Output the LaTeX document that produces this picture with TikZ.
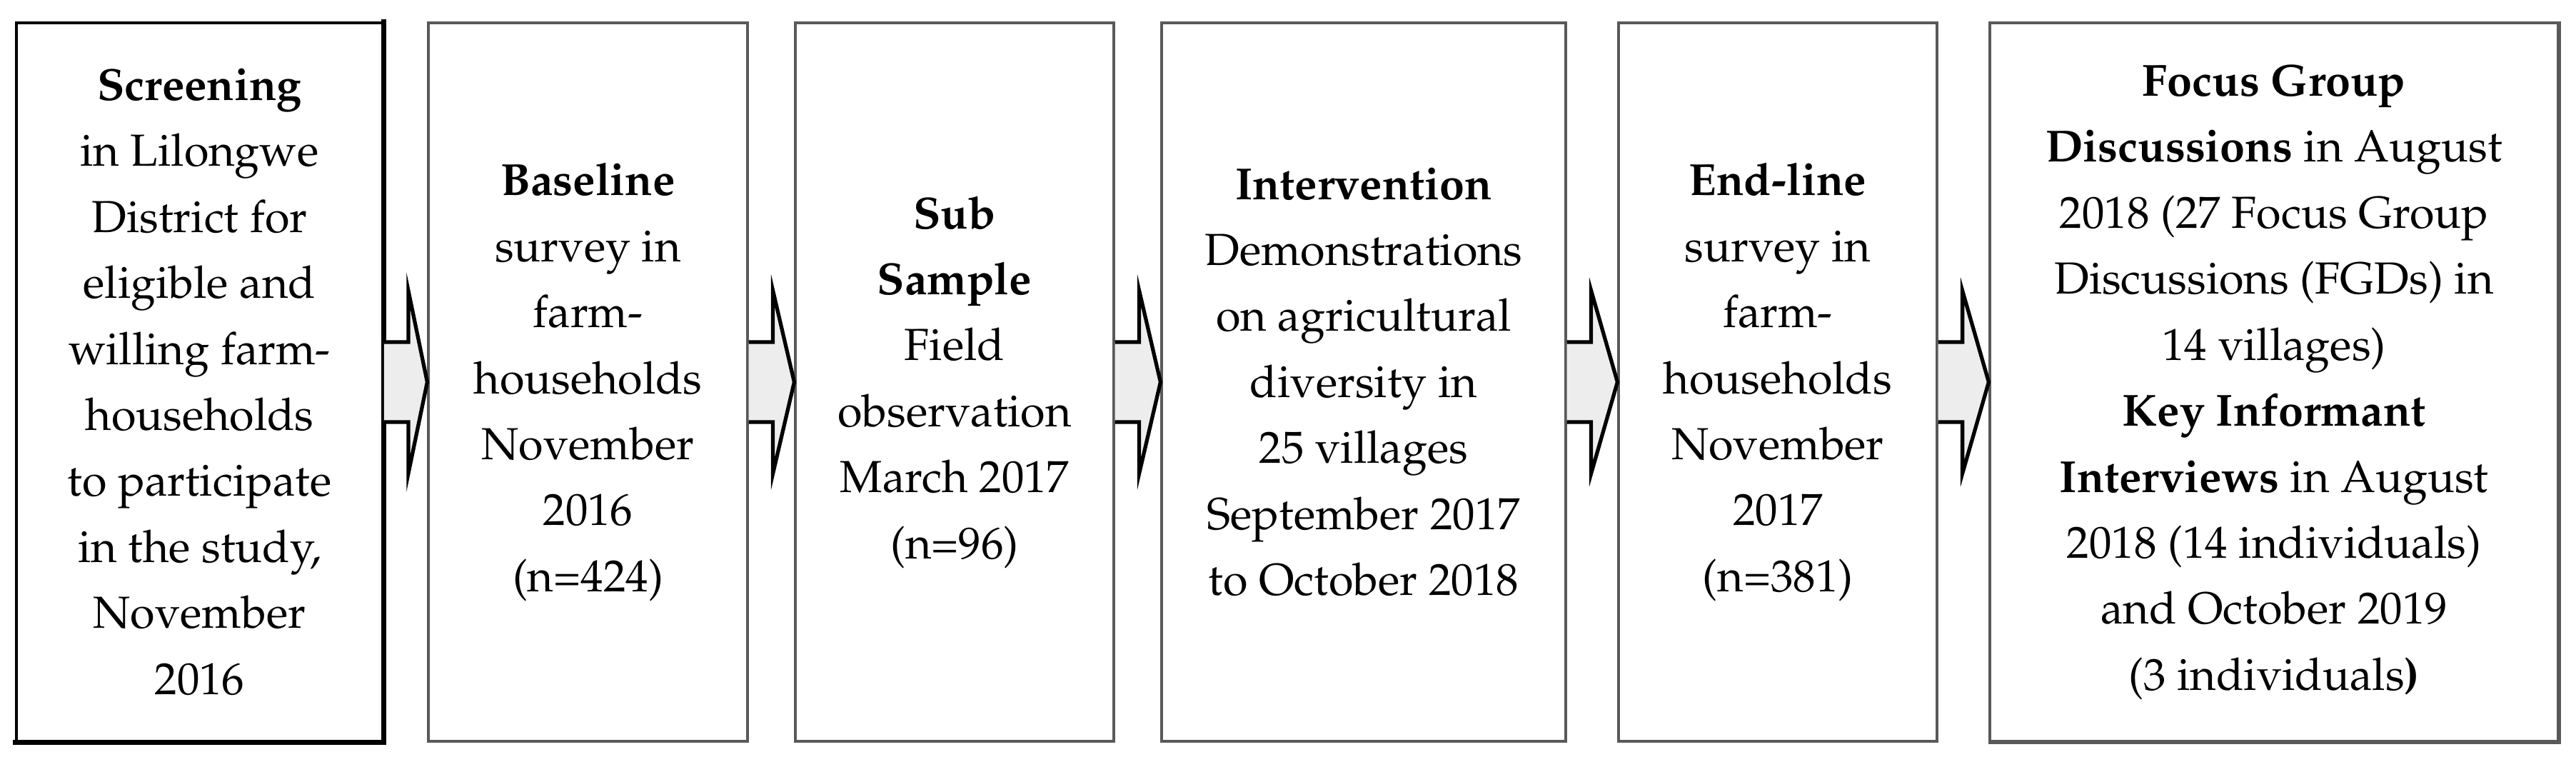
\documentclass[tikz,border=0pt]{standalone}
\usepackage[T1]{fontenc}
\usepackage{mathpazo}
\usetikzlibrary{calc}
\tikzset{
  stage/.style={draw=black!65, line width=0.9pt, fill=white, align=center, inner sep=0pt,
    font=\fontsize{17.9}{26.3}\selectfont},
  barrow/.style={draw=black, line width=1.5pt, fill=black!7, line join=miter},
  edge/.style={line width=2pt, line cap=rect},
}
\newcommand{\blockarrow}[2]{%
  \filldraw[barrow] ($(#1.east)+(0,0.56)$) -- ($(#1.east)+(0.34,0.56)$) -- ($(#1.east)+(0.34,1.28)$)
    -- (#2.west) -- ($(#1.east)+(0.34,-1.28)$) -- ($(#1.east)+(0.34,-0.56)$) -- ($(#1.east)+(0,-0.56)$);}
\begin{document}
\begin{tikzpicture}
\useasboundingbox (0,0) rectangle (36.08,10.60);
\node[stage, draw=black, line width=1.1pt, minimum width=5.13cm, minimum height=10.06cm] (b1) at (2.795,5.25)
 {\textbf{Screening}\\in Lilongwe\\District for\\eligible and\\willing farm-\\households\\to participate\\in the study,\\November\\2016};
\node[stage, minimum width=4.47cm, minimum height=10.06cm] (b2) at (8.235,5.25)
 {\textbf{Baseline}\\survey in\\farm-\\households\\November\\2016\\(n=424)};
\node[stage, minimum width=4.46cm, minimum height=10.06cm] (b3) at (13.37,5.25)
 {\textbf{Sub}\\\textbf{Sample}\\Field\\observation\\March 2017\\(n=96)};
\node[stage, minimum width=5.66cm, minimum height=10.06cm] (b4) at (19.10,5.25)
 {\textbf{Intervention}\\Demonstrations\\on agricultural\\diversity in\\25 villages\\September 2017\\to October 2018};
\node[stage, minimum width=4.46cm, minimum height=10.06cm] (b5) at (24.90,5.25)
 {\textbf{End-line}\\survey in\\farm-\\households\\November\\2017\\(n=381)};
\node[stage, minimum width=7.96cm, minimum height=10.06cm] (b6) at (31.85,5.25)
 {\textbf{Focus Group}\\\textbf{Discussions} in August\\2018 (27 Focus Group\\Discussions (FGDs) in\\14 villages)\\\textbf{Key Informant}\\\textbf{Interviews} in August\\2018 (14 individuals)\\and October 2019\\(3 individuals\textbf{)}};
\draw[edge, black] (b1.north east) -- (b1.south east) -- (b1.south west);
\draw[line width=1.4pt, black!65] (b6.north east) -- (b6.south east) -- (b6.south west);
\blockarrow{b1}{b2}
\blockarrow{b2}{b3}
\blockarrow{b3}{b4}
\blockarrow{b4}{b5}
\blockarrow{b5}{b6}
\end{tikzpicture}
\end{document}
